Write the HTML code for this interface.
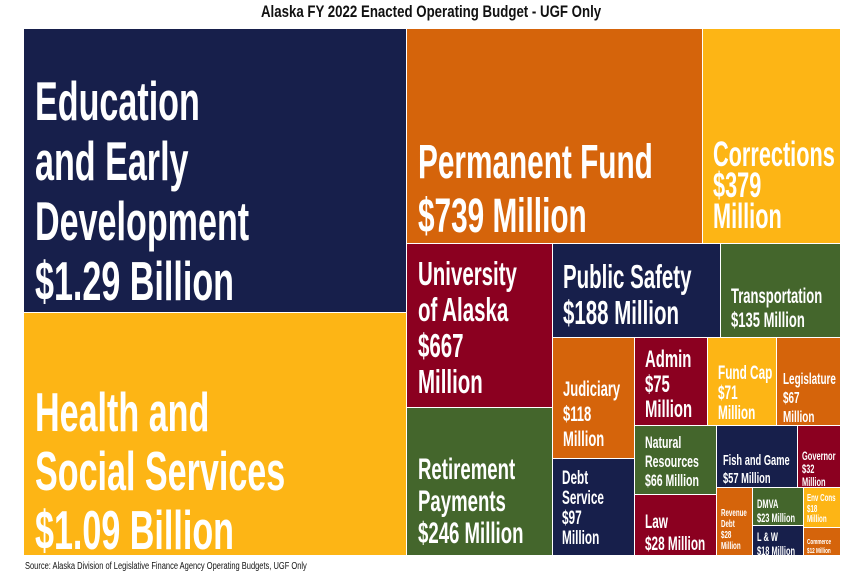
<!DOCTYPE html>
<html><head><meta charset="utf-8"><style>
body{margin:0;width:863px;height:584px;background:#fff;position:relative;overflow:hidden;font-family:"Liberation Sans",sans-serif}
.b{position:absolute;box-sizing:border-box;border-right:1px solid #fff;border-bottom:1px solid #fff}
.n{background:#171f4b}.y{background:#fdb515}.o{background:#d5640b}.m{background:#8b0020}.g{background:#44662c}
.t{position:absolute;color:#fff;white-space:nowrap;font-weight:bold;transform:scaleX(0.62);transform-origin:0 0}
.title{position:absolute;left:0;width:863px;top:2px;text-align:center;font-weight:bold;font-size:17px;color:#111}
.title span{display:inline-block;transform:scaleX(0.78)}
.src{position:absolute;left:25px;top:561px;font-size:10px;color:#111;transform:scaleX(0.75);transform-origin:0 0;white-space:nowrap}
</style></head><body>
<div class="title"><span>Alaska FY 2022 Enacted Operating Budget - UGF Only</span></div>

<div class="b n" style="left:24px;top:29px;width:383px;height:284px"></div>
<div class="b y" style="left:24px;top:313px;width:383px;height:243px"></div>
<div class="b o" style="left:407px;top:29px;width:296px;height:215px"></div>
<div class="b y" style="left:703px;top:29px;width:138px;height:215px"></div>
<div class="b m" style="left:407px;top:244px;width:146px;height:164px"></div>
<div class="b g" style="left:407px;top:408px;width:146px;height:148px"></div>
<div class="b n" style="left:553px;top:244px;width:168px;height:94px"></div>
<div class="b g" style="left:721px;top:244px;width:120px;height:94px"></div>
<div class="b o" style="left:553px;top:338px;width:82px;height:121px"></div>
<div class="b n" style="left:553px;top:459px;width:82px;height:97px"></div>
<div class="b m" style="left:635px;top:338px;width:73px;height:88px"></div>
<div class="b y" style="left:708px;top:338px;width:69px;height:88px"></div>
<div class="b o" style="left:777px;top:338px;width:64px;height:88px"></div>
<div class="b g" style="left:635px;top:426px;width:82px;height:69px"></div>
<div class="b m" style="left:635px;top:495px;width:82px;height:61px"></div>
<div class="b n" style="left:717px;top:426px;width:81px;height:62px"></div>
<div class="b m" style="left:798px;top:426px;width:43px;height:62px"></div>
<div class="b o" style="left:717px;top:488px;width:36px;height:68px"></div>
<div class="b g" style="left:753px;top:488px;width:51px;height:38px"></div>
<div class="b n" style="left:753px;top:526px;width:51px;height:30px"></div>
<div class="b y" style="left:804px;top:488px;width:37px;height:40px"></div>
<div class="b o" style="left:804px;top:528px;width:37px;height:28px"></div>

<div class="t" style="left:35px;top:71px;font-size:55px;line-height:60px">Education<br>and Early<br>Development<br>$1.29 Billion</div>
<div class="t" style="left:35px;top:383px;font-size:55px;line-height:59px">Health and<br>Social Services<br>$1.09 Billion</div>
<div class="t" style="left:418px;top:136px;font-size:48px;line-height:54px">Permanent Fund<br>$739 Million</div>
<div class="t" style="left:713px;top:139px;font-size:35px;line-height:31px">Corrections<br>$379<br>Million</div>
<div class="t" style="left:418px;top:256px;font-size:33px;line-height:36px">University<br>of Alaska<br>$667<br>Million</div>
<div class="t" style="left:563px;top:259px;font-size:33px;line-height:36px">Public Safety<br>$188 Million</div>
<div class="t" style="left:731px;top:285px;font-size:21px;line-height:24px">Transportation<br>$135 Million</div>
<div class="t" style="left:563px;top:377px;font-size:21px;line-height:25px">Judiciary<br>$118<br>Million</div>
<div class="t" style="left:418px;top:454px;font-size:30px;line-height:32px">Retirement<br>Payments<br>$246 Million</div>
<div class="t" style="left:562px;top:469px;font-size:19px;line-height:20px">Debt<br>Service<br>$97<br>Million</div>
<div class="t" style="left:645px;top:347px;font-size:24px;line-height:25px">Admin<br>$75<br>Million</div>
<div class="t" style="left:718px;top:364px;font-size:19px;line-height:20px">Fund Cap<br>$71<br>Million</div>
<div class="t" style="left:783px;top:370px;font-size:16px;line-height:19px">Legislature<br>$67<br>Million</div>
<div class="t" style="left:645px;top:433px;font-size:17px;line-height:19px">Natural<br>Resources<br>$66 Million</div>
<div class="t" style="left:723px;top:452px;font-size:15px;line-height:18px">Fish and Game<br>$57 Million</div>
<div class="t" style="left:802px;top:450px;font-size:12px;line-height:13px">Governor<br>$32<br>Million</div>
<div class="t" style="left:645px;top:512px;font-size:19px;line-height:22px">Law<br>$28 Million</div>
<div class="t" style="left:721px;top:508px;font-size:10px;line-height:11px">Revenue<br>Debt<br>$28<br>Million</div>
<div class="t" style="left:757px;top:497px;font-size:12px;line-height:14px">DMVA<br>$23 Million</div>
<div class="t" style="left:757px;top:530px;font-size:12px;line-height:14px">L &amp; W<br>$18 Million</div>
<div class="t" style="left:807px;top:494px;font-size:10px;line-height:10.5px">Env Cons<br>$18<br>Million</div>
<div class="t" style="left:807px;top:537px;font-size:7.5px;line-height:9px">Commerce<br>$12 Million</div>

<div class="src">Source: Alaska Division of Legislative Finance Agency Operating Budgets, UGF Only</div>
</body></html>
